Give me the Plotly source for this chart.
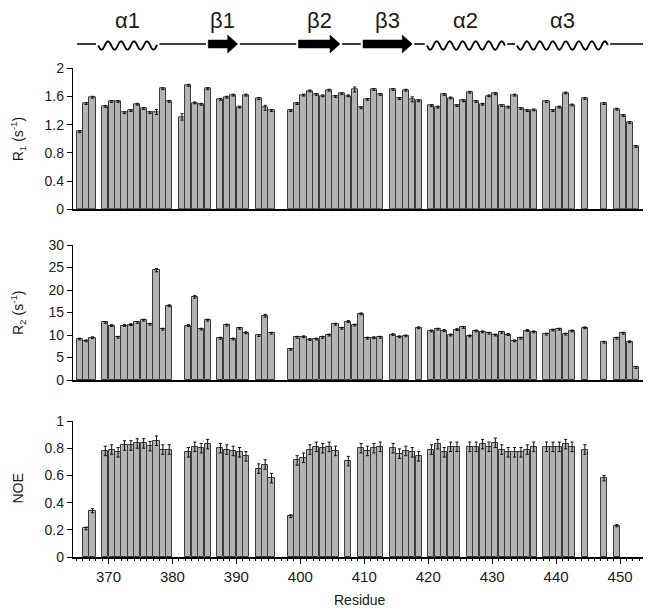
import math
import plotly.graph_objects as go

# ---------------- data ----------------
r1_res = [365, 366, 367,
          369, 370, 371, 372, 373, 374, 375, 376, 377, 378, 379,
          381, 382, 383, 384, 385,
          387, 388, 389, 390, 391,
          393, 394, 395,
          398, 399, 400, 401, 402, 403, 404, 405, 406, 407, 408, 409, 410, 411, 412,
          414, 415, 416, 417, 418,
          420, 421, 422, 423, 424, 425, 426, 427, 428, 429, 430, 431, 432, 433, 434, 435, 436,
          438, 439, 440, 441, 442,
          444, 447,
          449, 450, 451, 452]
r1_val = [1.10, 1.50, 1.59,
          1.46, 1.53, 1.53, 1.37, 1.40, 1.49, 1.43, 1.37, 1.38, 1.71, 1.53,
          1.31, 1.76, 1.51, 1.49, 1.71,
          1.56, 1.59, 1.62, 1.45, 1.62,
          1.57, 1.44, 1.40,
          1.40, 1.50, 1.62, 1.68, 1.63, 1.61, 1.69, 1.60, 1.64, 1.61, 1.70, 1.44, 1.56, 1.70, 1.63,
          1.70, 1.57, 1.69, 1.56, 1.54,
          1.47, 1.45, 1.63, 1.58, 1.47, 1.54, 1.66, 1.53, 1.49, 1.61, 1.64, 1.47, 1.45, 1.62, 1.43, 1.40, 1.41,
          1.53, 1.40, 1.45, 1.65, 1.48,
          1.57, 1.50,
          1.42, 1.33, 1.23, 0.89]
r1_err_default = 0.013
r1_err_big = {377: 0.035, 381: 0.045, 394: 0.035, 408: 0.035, 417: 0.035}

r2_res = [365, 366, 367,
          369, 370, 371, 372, 373, 374, 375, 376, 377, 378, 379,
          382, 383, 384, 385,
          387, 388, 389, 390, 391,
          393, 394, 395,
          398, 399, 400, 401, 402, 403, 404, 405, 406, 407, 408, 409, 410, 411, 412,
          414, 415, 416, 418,
          420, 421, 422, 423, 424, 425, 426, 427, 428, 429, 430, 431, 432, 433, 434, 435, 436,
          438, 439, 440, 441, 442,
          444, 447,
          449, 450, 451, 452]
r2_val = [9.1, 8.7, 9.4,
          12.8, 12.1, 9.5, 12.1, 12.3, 12.8, 13.3, 12.4, 24.4, 11.3, 16.5,
          12.1, 18.5, 11.3, 13.3,
          9.3, 12.2, 9.1, 11.5, 10.5,
          9.9, 14.3, 10.4,
          6.8, 9.5, 9.6, 9.0, 9.1, 9.5, 10.0, 12.4, 11.5, 13.0, 12.2, 14.7, 9.3, 9.4, 9.5,
          10.1, 9.6, 9.8, 11.6,
          10.9, 11.3, 11.0, 10.0, 11.2, 11.7, 9.8, 10.9, 10.7, 10.4, 10.0, 10.6, 10.1, 8.7, 9.3, 11.0, 10.7,
          10.2, 11.1, 11.3, 10.2, 10.9,
          11.6, 8.4,
          9.3, 10.4, 8.5, 2.8]
r2_err_default = 0.2
r2_err_big = {377: 0.35, 383: 0.3, 394: 0.3}

noe_res = [366, 367,
           369, 370, 371, 372, 373, 374, 375, 376, 377, 378, 379,
           382, 383, 384, 385,
           387, 388, 389, 390, 391,
           393, 394, 395,
           398, 399, 400, 401, 402, 403, 404, 405,
           407,
           409, 410, 411, 412,
           414, 415, 416, 417, 418,
           420, 421, 422, 423, 424,
           426, 427, 428, 429, 430, 431, 432, 433, 434, 435, 436,
           438, 439, 440, 441, 442,
           444, 447, 449]
noe_val = [0.21, 0.34,
           0.78, 0.79, 0.77, 0.82, 0.82, 0.835, 0.835, 0.815, 0.855, 0.79, 0.79,
           0.77, 0.81, 0.80, 0.83,
           0.80, 0.79, 0.78, 0.77, 0.74,
           0.65, 0.68, 0.58,
           0.30, 0.71, 0.73, 0.79, 0.81, 0.80, 0.81, 0.78,
           0.705,
           0.80, 0.78, 0.80, 0.81,
           0.80, 0.76, 0.78, 0.77, 0.74,
           0.79, 0.83, 0.77, 0.81, 0.81,
           0.81, 0.81, 0.83, 0.81, 0.84, 0.79, 0.77, 0.77, 0.77, 0.79, 0.81,
           0.81, 0.81, 0.81, 0.83, 0.81,
           0.79, 0.58, 0.23]
noe_err_default = 0.035
noe_err_small = {366: 0.01, 367: 0.015, 398: 0.01, 447: 0.02, 449: 0.008}

# secondary structure (residue coordinates)
chain_start, chain_end = 365.1, 453.6
ss_label = ["α1", "β1", "β2", "β3", "α2", "α3"]
ss_type = ["helix", "strand", "strand", "strand", "helix", "helix"]
ss_start = [368.4, 385.6, 399.7, 409.8, 419.8, 433.9]
ss_end = [377.6, 390.2, 406.2, 417.5, 432.0, 448.1]

# ---------------- figure ----------------
FONT = "Liberation Sans, Arial, Helvetica, sans-serif"
TXT = "#1a1a1a"
BAR_FILL = "#b3b3b3"
BAR_LINE = "#3c3c3c"

# page body has an 8px margin: figure drawn at (8, 8)
FIG_W, FIG_H = 643, 605
M_L, M_R, M_T, M_B = 65, 6, 0, 56
PLOT_TOP_PAGE = 8 + M_T
PLOT_H = FIG_H - M_T - M_B
PLOT_W = FIG_W - M_L - M_R
PLOT_BOTTOM_PAGE = PLOT_TOP_PAGE + PLOT_H
PLOT_LEFT_PAGE = 8 + M_L

def py(p):  # page pixel from top -> paper y
    return (PLOT_BOTTOM_PAGE - p) / PLOT_H

def px(p):  # page pixel from left -> paper x
    return (p - PLOT_LEFT_PAGE) / PLOT_W

def errs(res, default, over):
    return [over.get(r, default) for r in res]

def bar(res, val, err, xa, ya):
    return go.Bar(
        x=res, y=val, width=0.96, offset=0.02,
        marker=dict(color=BAR_FILL, line=dict(color=BAR_LINE, width=1)),
        error_y=dict(type="data", array=err, color="#111111", thickness=1, width=1.6),
        xaxis=xa, yaxis=ya, showlegend=False, hoverinfo="x+y",
    )

fig = go.Figure()
fig.add_trace(bar(r1_res, r1_val, errs(r1_res, r1_err_default, r1_err_big), "x", "y"))
fig.add_trace(bar(r2_res, r2_val, errs(r2_res, r2_err_default, r2_err_big), "x2", "y2"))
fig.add_trace(bar(noe_res, noe_val, errs(noe_res, noe_err_default, noe_err_small), "x3", "y3"))

xr = [364.45, 453.9]
xbase = dict(range=xr, showgrid=False, zeroline=False, showline=True, automargin=False,
             linecolor="black", linewidth=1.5, domain=[0, 1])
yaxis_common = dict(showgrid=False, zeroline=False, showline=True, linecolor="black",
                    automargin=False,
                    linewidth=1.3, ticks="outside", ticklen=5, tickwidth=1.3,
                    tickcolor="black", tickfont=dict(size=14, color=TXT, family=FONT))

fig.update_layout(
    width=FIG_W, height=FIG_H,
    margin=dict(l=M_L, r=M_R, t=M_T, b=M_B, pad=0),
    paper_bgcolor="white", plot_bgcolor="white",
    font=dict(family=FONT, color=TXT, size=14),
    bargap=0,
    xaxis=dict(**xbase, anchor="y", showticklabels=False, ticks=""),
    xaxis2=dict(**xbase, anchor="y2", matches="x", showticklabels=False, ticks=""),
    xaxis3=dict(**xbase, anchor="y3", matches="x", ticks="outside", tick0=370, dtick=10,
                ticklen=5, tickwidth=1.3, tickcolor="black",
                tickfont=dict(size=15, color=TXT, family=FONT),
                minor=dict(dtick=1, tick0=370, ticks="outside", ticklen=2.5,
                           tickwidth=1, tickcolor="black")),
    yaxis=dict(**yaxis_common, domain=[py(209.3), py(68.3)], range=[0, 2],
               tick0=0, dtick=0.4, anchor="x"),
    yaxis2=dict(**yaxis_common, domain=[py(380), py(245)], range=[0, 30],
                tick0=0, dtick=5, anchor="x2"),
    yaxis3=dict(**yaxis_common, domain=[0, py(421)], range=[0, 1],
                tick0=0, dtick=0.2, anchor="x3"),
)

# axis titles
ytitles = [("R<sub>1</sub> (s<sup>-1</sup>)", (68.3 + 209.3) / 2),
           ("R<sub>2</sub> (s<sup>-1</sup>)", (245 + 380) / 2),
           ("NOE", (421 + 557) / 2)]
for txt, yc in ytitles:
    fig.add_annotation(text=txt, xref="paper", yref="paper", x=px(17.5), y=py(yc),
                       xanchor="center", yanchor="middle", textangle=-90, showarrow=False,
                       font=dict(size=14, color=TXT, family=FONT))
fig.add_annotation(text="Residue", xref="paper", yref="paper", x=px(359.5), y=py(600),
                   xanchor="center", yanchor="middle", showarrow=False,
                   font=dict(size=14, color=TXT, family=FONT))

# ---------------- secondary structure diagram ----------------
PX_PER_RES = PLOT_W / (xr[1] - xr[0])
y_line = py(44)
gap = 0.35

def res_dx(p):
    return p / PX_PER_RES

# coil segments
bounds = [chain_start] + [v for pair in zip(ss_start, ss_end) for v in pair] + [chain_end]
for i in range(0, len(bounds), 2):
    a, b = bounds[i], bounds[i + 1]
    a2 = a if i == 0 else a + gap
    b2 = b if i == len(bounds) - 2 else b - gap
    fig.add_shape(type="line", xref="x", yref="paper", x0=a2, x1=b2, y0=y_line, y1=y_line,
                  line=dict(color="black", width=1.6))

amp = 4.2 / PLOT_H
period = res_dx(13.0)
y_wave = py(45.5)
for lab, t, s, e in zip(ss_label, ss_type, ss_start, ss_end):
    if t == "helix":
        n = 120
        pts = []
        for k in range(n + 1):
            xx = s + (e - s) * k / n
            yy = y_wave - amp * math.sin(2 * math.pi * (xx - s) / period)
            pts.append(f"{xx:.4f},{yy:.5f}")
        path = "M " + " L ".join(pts)
        fig.add_shape(type="path", xref="x", yref="paper", path=path,
                      line=dict(color="black", width=1.8))
    else:
        hl = res_dx(10)
        bh = 4.0 / PLOT_H
        hh = 9.0 / PLOT_H
        xh = e - hl
        path = (f"M {s},{y_line - bh} L {xh},{y_line - bh} L {xh},{y_line - hh} "
                f"L {e},{y_line} L {xh},{y_line + hh} L {xh},{y_line + bh} L {s},{y_line + bh} Z")
        fig.add_shape(type="path", xref="x", yref="paper", path=path,
                      fillcolor="black", line=dict(color="black", width=0.5))
    fig.add_annotation(text=lab, xref="x", yref="paper", x=(s + e) / 2, y=py(20),
                       xanchor="center", yanchor="middle", showarrow=False,
                       font=dict(size=22, color=TXT, family=FONT))

fig.write_html("out.html")
